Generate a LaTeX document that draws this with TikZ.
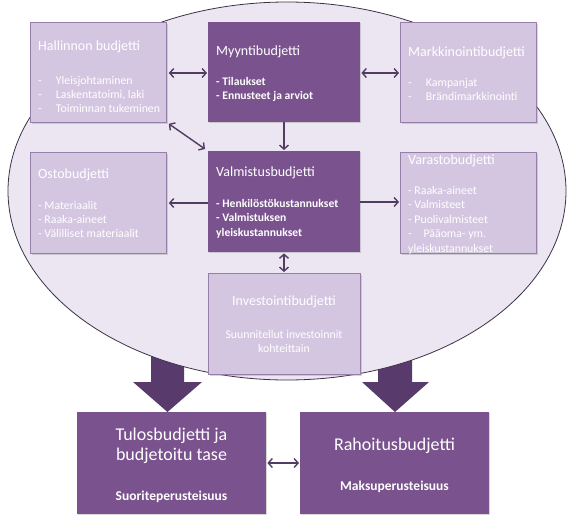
\documentclass[tikz,border=0pt]{standalone}
\usepackage{fontspec}
\setmainfont{Carlito}
\usetikzlibrary{arrows.meta,shadows,calc}
\definecolor{darkbox}{RGB}{122,82,142}
\definecolor{lightbox}{RGB}{212,198,225}
\definecolor{lightborder}{RGB}{150,128,170}
\definecolor{ellfill}{RGB}{236,230,242}
\definecolor{ellline}{RGB}{60,50,70}
\definecolor{bigarrow}{RGB}{88,58,108}
\definecolor{conn}{RGB}{82,60,98}
\begin{document}
\begin{tikzpicture}[x=1pt,y=-1pt,
  lbox/.style={draw=lightborder,line width=0.8pt,fill=lightbox,minimum width=#1,anchor=north west,inner sep=0pt,
     drop shadow={shadow xshift=1.2pt,shadow yshift=-1.2pt,opacity=0.3}},
  dbox/.style={fill=darkbox,anchor=north west,inner sep=0pt,
     drop shadow={shadow xshift=1.2pt,shadow yshift=-1.2pt,opacity=0.3}},
  ttl/.style={text=white,font=\fontsize{14}{16}\selectfont,anchor=west,inner sep=0pt},
  itm/.style={text=white,font=\fontsize{11.8}{14}\selectfont,anchor=west,inner sep=0pt,align=left},
  ditm/.style={text=white,font=\bfseries\fontsize{11.6}{14.5}\selectfont,anchor=west,inner sep=0pt,align=left},
  conn/.style={draw=conn,line width=1.4pt,{Straight Barb[length=4pt,width=9pt]}-{Straight Barb[length=4pt,width=9pt]}},
  conr/.style={draw=conn,line width=1.4pt,-{Straight Barb[length=4pt,width=9pt]}},
  big/.style={fill=bigarrow,draw=none}]
\useasboundingbox (0,0) rectangle (572,522);
\fill[white] (0,0) rectangle (572,522);
% big arrows
\fill[big] (151,330) -- (184,330) -- (184,382) -- (202,382) -- (167.5,412) -- (133,382) -- (151,382) -- cycle;
\fill[big] (378,330) -- (412,330) -- (412,382) -- (429,382) -- (395,412) -- (362,382) -- (378,382) -- cycle;
% ellipse
\draw[ellline,line width=0.8pt,fill=ellfill] (287,191) ellipse [x radius=279, y radius=189];
% boxes
\node[lbox=136pt,minimum height=100pt] (hal) at (30,22) {};
\node[dbox,minimum width=152pt,minimum height=100pt] (myy) at (208,22) {};
\node[lbox=136pt,minimum height=100pt] (mar) at (400,22) {};
\node[lbox=136pt,minimum height=101pt] (ost) at (30,152) {};
\node[dbox,minimum width=152pt,minimum height=101pt] (val) at (208,151) {};
\node[lbox=136pt,minimum height=101pt] (var) at (400,152) {};
\node[lbox=152pt,minimum height=101pt] (inv) at (208,273) {};
\node[dbox,minimum width=189pt,minimum height=102pt] (tul) at (77,412) {};
\node[dbox,minimum width=189pt,minimum height=102pt] (rah) at (300,412) {};
% texts
\node[ttl] (halt) at (38,47) {Hallinnon budjetti};
\node[itm] (hali) at (38,94) {-\hspace{1.2em}Yleisjohtaminen\\-\hspace{1.2em}Laskentatoimi, laki\\-\hspace{1.2em}Toiminnan tukeminen};
\node[ttl] (myyt) at (216,52) {Myyntibudjetti};
\node[ditm] (myyi) at (216,89.5) {- Tilaukset\\- Ennusteet ja arviot};
\node[ttl] (mart) at (408,53) {Markkinointibudjetti};
\node[itm] (mari) at (408,89.5) {-\hspace{1.2em}Kampanjat\\-\hspace{1.2em}Brändimarkkinointi};
\node[ttl] (ostt) at (38,175) {Ostobudjetti};
\node[itm] (osti) at (38,219) {- Materiaalit\\- Raaka-aineet\\- Välilliset materiaalit};
\node[ttl] (valt) at (216,173) {Valmistusbudjetti};
\node[ditm] (vali) at (216,218.5) {- Henkilöstökustannukset\\- Valmistuksen\\yleiskustannukset};
\node[ttl] (vart) at (408,161) {Varastobudjetti};
\node[itm,font=\fontsize{11.8}{14.5}\selectfont] (vari) at (408,220) {- Raaka-aineet\\- Valmisteet\\- Puolivalmisteet\\-\hspace{1em}Pääoma- ym.\\yleiskustannukset};
\node[ttl,anchor=center] (invt) at (284,302) {Investointibudjetti};
\node[itm,anchor=center,align=center] (invi) at (284,341) {Suunnitellut investoinnit\\kohteittain};
\node[text=white,font=\fontsize{18}{20}\selectfont,align=center,inner sep=0pt] (tult) at (171.5,446) {Tulosbudjetti ja\\budjetoitu tase};
\node[text=white,font=\bfseries\fontsize{13.5}{14}\selectfont,inner sep=0pt] (tuli) at (171.5,497) {Suoriteperusteisuus};
\node[text=white,font=\fontsize{18}{20}\selectfont,inner sep=0pt] (raht) at (394.5,446) {Rahoitusbudjetti};
\node[text=white,font=\bfseries\fontsize{13.5}{14}\selectfont,inner sep=0pt] (rahi) at (394.5,487) {Maksuperusteisuus};
% connectors
\draw[conn] ($(hal.north east)+(2,51)$) -- ($(myy.north west)+(-1,51)$);
\draw[conn] ($(myy.north east)+(1,51)$) -- ($(mar.north west)+(-1,51)$);
\draw[conn] ($(hal.south east)+(2,1)$) -- ($(val.north west)+(-3,-2)$);
\draw[conr] (myy.south -| 284,0) -- ($(val.north -| 284,0)+(0,-1)$);
\draw[conr] ($(val.north west)+(0,52)$) -- ($(ost.north east)+(2,51)$);
\draw[conr] ($(val.north east)+(0,51)$) -- ($(var.north west)+(-1,50)$);
\draw[conn] ($(val.south -| 284,0)+(0,1)$) -- ($(inv.north -| 284,0)+(0,-1)$);
\draw[conn] ($(tul.north east)+(1,51)$) -- ($(rah.north west)+(-1,51)$);
\end{tikzpicture}
\end{document}
